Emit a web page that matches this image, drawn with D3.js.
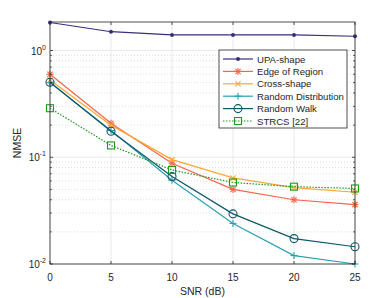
<!DOCTYPE html>
<html>
<head>
<meta charset="utf-8">
<script src="https://cdn.jsdelivr.net/npm/d3@7"></script>
<style>
  body { margin: 0; background: #fff; }
  svg { font-family: "Liberation Sans", Arial, sans-serif; }
</style>
</head>
<body>
<script>
// data
var snr = [0, 5, 10, 15, 20, 25]
var upa = [1.83, 1.5, 1.4, 1.4, 1.4, 1.36]
var edge = [0.6, 0.208, 0.088, 0.05, 0.04, 0.036]
var cross = [0.53, 0.2, 0.095, 0.064, 0.052, 0.047]
var randDist = [0.5, 0.178, 0.061, 0.024, 0.012, 0.01]
var randWalk = [0.505, 0.175, 0.066, 0.0295, 0.0173, 0.0145]
var strcs = [0.288, 0.129, 0.076, 0.058, 0.053, 0.051]
var xTicks = [0, 5, 10, 15, 20, 25]
var yTicks = [0.01, 0.1, 1]

var series = [
  { name: 'UPA-shape', values: upa, color: '#3b2d7c', marker: 'dot' },
  { name: 'Edge of Region', values: edge, color: '#f5654a', marker: 'star' },
  { name: 'Cross-shape', values: cross, color: '#fda634', marker: 'x' },
  { name: 'Random Distribution', values: randDist, color: '#2b9fb3', marker: 'plus' },
  { name: 'Random Walk', values: randWalk, color: '#0c5768', marker: 'circle' },
  { name: 'STRCS [22]', values: strcs, color: '#1e9a1e', marker: 'square', dash: '1.5,1.5' }
]

var W = 392, H = 298
var pLeft = 50, pRight = 355, pTop = 22, pBottom = 264

var svg = d3.select('body').append('svg')
  .attr('width', W)
  .attr('height', H)

var x = d3.scaleLinear().domain([0, 25]).range([pLeft, pRight])
var y = d3.scaleLog().domain([0.01, 1.85]).range([pBottom, pTop])

// grid
var grid = svg.append('g')
xTicks.forEach(function(t) {
  grid.append('line')
    .attr('x1', x(t)).attr('x2', x(t))
    .attr('y1', pTop).attr('y2', pBottom)
    .attr('stroke', '#e3e3e3').attr('stroke-width', 0.8)
})
var minors = []
for (var d = 0.01; d < 2; d *= 10) {
  for (var k = 2; k <= 9; k++) {
    var v = d * k
    if (v < 1.85) minors.push(v)
  }
}
minors.forEach(function(v) {
  grid.append('line')
    .attr('x1', pLeft).attr('x2', pRight)
    .attr('y1', y(v)).attr('y2', y(v))
    .attr('stroke', '#cfcfcf').attr('stroke-width', 0.7)
    .attr('stroke-dasharray', '1,2')
})
yTicks.forEach(function(t) {
  grid.append('line')
    .attr('x1', pLeft).attr('x2', pRight)
    .attr('y1', y(t)).attr('y2', y(t))
    .attr('stroke', '#e3e3e3').attr('stroke-width', 0.8)
})

// lines and markers
var line = d3.line()
  .x(function(d, i) { return x(snr[i]) })
  .y(function(d) { return y(d) })

function drawMarker(g, type, cx, cy, color) {
  var m = g.append('g').attr('transform', 'translate(' + cx + ',' + cy + ')')
  if (type === 'dot') {
    m.append('circle').attr('r', 2).attr('fill', color)
  } else if (type === 'circle') {
    m.append('circle').attr('r', 4).attr('fill', 'none')
      .attr('stroke', color).attr('stroke-width', 1.1)
  } else if (type === 'square') {
    m.append('rect').attr('x', -3.5).attr('y', -3.5)
      .attr('width', 7).attr('height', 7)
      .attr('fill', 'none').attr('stroke', color).attr('stroke-width', 1.1)
  } else {
    var s = 3.5
    var segs = []
    if (type === 'plus' || type === 'star') segs.push([0, -s, 0, s], [-s, 0, s, 0])
    if (type === 'x' || type === 'star') segs.push([-s * 0.75, -s * 0.75, s * 0.75, s * 0.75], [-s * 0.75, s * 0.75, s * 0.75, -s * 0.75])
    segs.forEach(function(p) {
      m.append('line')
        .attr('x1', p[0]).attr('y1', p[1]).attr('x2', p[2]).attr('y2', p[3])
        .attr('stroke', color).attr('stroke-width', 1.1)
    })
  }
}

var plot = svg.append('g')
series.forEach(function(s) {
  plot.append('path')
    .attr('d', line(s.values))
    .attr('fill', 'none')
    .attr('stroke', s.color)
    .attr('stroke-width', 1.2)
    .attr('stroke-dasharray', s.dash || null)
  s.values.forEach(function(v, i) {
    drawMarker(plot, s.marker, x(snr[i]), y(v), s.color)
  })
})

// box and ticks
var axisColor = '#262626'
svg.append('rect')
  .attr('x', pLeft).attr('y', pTop)
  .attr('width', pRight - pLeft).attr('height', pBottom - pTop)
  .attr('fill', 'none').attr('stroke', axisColor).attr('stroke-width', 0.8)

xTicks.forEach(function(t) {
  svg.append('line').attr('x1', x(t)).attr('x2', x(t))
    .attr('y1', pBottom).attr('y2', pBottom - 3)
    .attr('stroke', axisColor).attr('stroke-width', 0.8)
  svg.append('line').attr('x1', x(t)).attr('x2', x(t))
    .attr('y1', pTop).attr('y2', pTop + 3)
    .attr('stroke', axisColor).attr('stroke-width', 0.8)
  svg.append('text')
    .attr('x', x(t)).attr('y', 281)
    .attr('text-anchor', 'middle')
    .attr('font-size', 10).attr('fill', axisColor)
    .text(t)
})

yTicks.concat(minors).forEach(function(v) {
  var len = yTicks.indexOf(v) >= 0 ? 3 : 1.8
  svg.append('line').attr('x1', pLeft).attr('x2', pLeft + len)
    .attr('y1', y(v)).attr('y2', y(v))
    .attr('stroke', axisColor).attr('stroke-width', 0.8)
  svg.append('line').attr('x1', pRight).attr('x2', pRight - len)
    .attr('y1', y(v)).attr('y2', y(v))
    .attr('stroke', axisColor).attr('stroke-width', 0.8)
})

yTicks.forEach(function(t) {
  var txt = svg.append('text')
    .attr('x', 46).attr('y', y(t) + 4)
    .attr('text-anchor', 'end')
    .attr('font-size', 10).attr('fill', axisColor)
  txt.append('tspan').text('10')
  txt.append('tspan').attr('dy', -5).attr('font-size', 7)
    .text(Math.round(Math.log10(t)))
})

svg.append('text')
  .attr('x', (pLeft + pRight) / 2).attr('y', 295)
  .attr('text-anchor', 'middle')
  .attr('font-size', 10.5).attr('fill', axisColor)
  .text('SNR (dB)')

svg.append('text')
  .attr('transform', 'translate(21,' + (pTop + pBottom) / 2 + ') rotate(-90)')
  .attr('text-anchor', 'middle')
  .attr('font-size', 10.5).attr('fill', axisColor)
  .text('NMSE')

// legend
var lg = svg.append('g')
lg.append('rect')
  .attr('x', 219).attr('y', 50)
  .attr('width', 128).attr('height', 78)
  .attr('fill', '#fff').attr('stroke', axisColor).attr('stroke-width', 0.8)
series.forEach(function(s, i) {
  var ly = 59 + i * 12.4
  lg.append('line')
    .attr('x1', 223).attr('x2', 253)
    .attr('y1', ly).attr('y2', ly)
    .attr('stroke', s.color).attr('stroke-width', 1.2)
    .attr('stroke-dasharray', s.dash || null)
  drawMarker(lg, s.marker, 238, ly, s.color)
  lg.append('text')
    .attr('x', 257).attr('y', ly + 3.5)
    .attr('font-size', 9.6).attr('fill', axisColor)
    .text(s.name)
})
</script>
</body>
</html>
